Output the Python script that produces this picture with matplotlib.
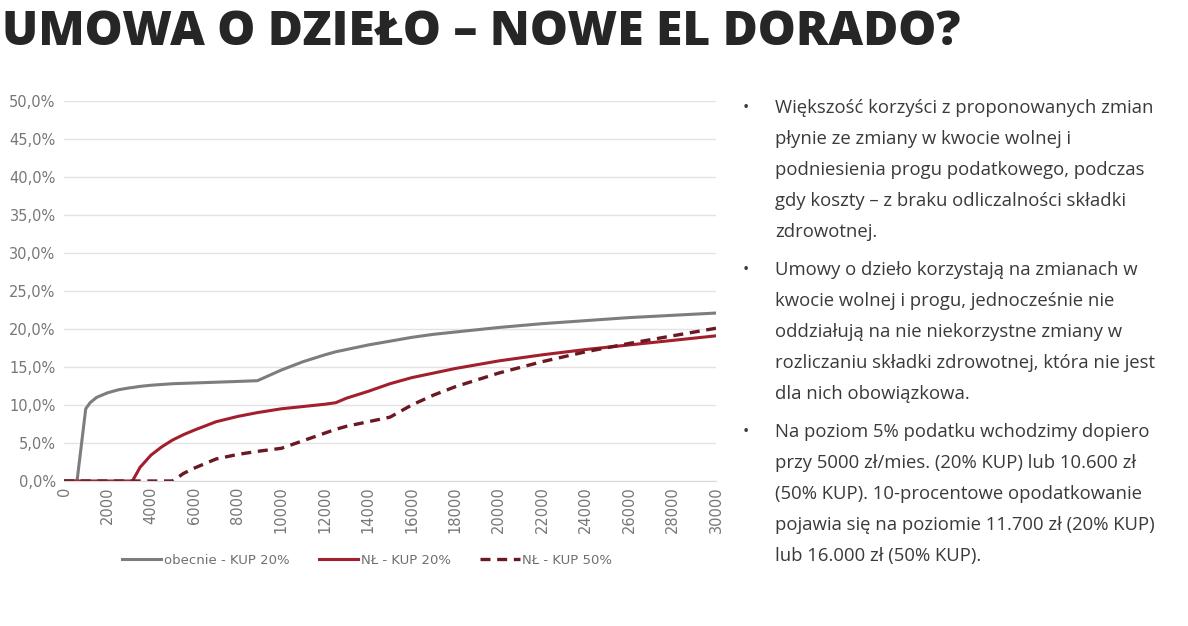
import matplotlib.pyplot as plt
import matplotlib.ticker as mticker

income = [0, 600, 1000, 1200, 1500, 2000, 2500, 3000, 3150, 3500, 4000, 4500, 5000, 5500, 6000,
          7000, 8000, 8900, 10000, 11000, 12000, 12500, 13000, 14000, 15000, 16000, 17000,
          18000, 20000, 22000, 24000, 26000, 28000, 30000]

obecnie_20 = [0.0, 0.0, 9.5, 10.3, 11.0, 11.6, 12.0, 12.25, 12.3, 12.45, 12.6, 12.7, 12.8, 12.85, 12.9,
              13.0, 13.1, 13.2, 14.6, 15.7, 16.6, 17.0, 17.3, 17.9, 18.4, 18.9, 19.3,
              19.6, 20.2, 20.7, 21.1, 21.5, 21.8, 22.1]
nl_20 = [0.0, 0.0, 0.0, 0.0, 0.0, 0.0, 0.0, 0.0, 0.0, 1.8, 3.4, 4.5, 5.4, 6.1, 6.7,
         7.8, 8.5, 9.0, 9.5, 9.8, 10.1, 10.3, 10.9, 11.8, 12.8, 13.6, 14.2,
         14.8, 15.8, 16.6, 17.3, 17.9, 18.5, 19.1]
nl_50 = [0.0, 0.0, 0.0, 0.0, 0.0, 0.0, 0.0, 0.0, 0.0, 0.0, 0.0, 0.0, 0.0, 1.0, 1.7,
         2.9, 3.5, 3.9, 4.3, 5.3, 6.3, 6.8, 7.2, 7.8, 8.4, 10.0, 11.3,
         12.4, 14.2, 15.7, 17.0, 18.1, 19.1, 20.1]

series_labels = ["obecnie - KUP 20%", "NŁ - KUP 20%", "NŁ - KUP 50%"]

bullets = [
    ["Większość korzyści z proponowanych zmian",
     "płynie ze zmiany w kwocie wolnej i",
     "podniesienia progu podatkowego, podczas",
     "gdy koszty – z braku odliczalności składki",
     "zdrowotnej."],
    ["Umowy o dzieło korzystają na zmianach w",
     "kwocie wolnej i progu, jednocześnie nie",
     "oddziałują na nie niekorzystne zmiany w",
     "rozliczaniu składki zdrowotnej, która nie jest",
     "dla nich obowiązkowa."],
    ["Na poziom 5% podatku wchodzimy dopiero",
     "przy 5000 zł/mies. (20% KUP) lub 10.600 zł",
     "(50% KUP). 10-procentowe opodatkowanie",
     "pojawia się na poziomie 11.700 zł (20% KUP)",
     "lub 16.000 zł (50% KUP)."],
]

W, H = 1188, 626
fig = plt.figure(figsize=(W / 100, H / 100), dpi=100)
fig.patch.set_facecolor("white")

fig.text(2 / W, 1 - 33 / H, "UMOWA O DZIEŁO – NOWE EL DORADO?", fontsize=34.5,
         fontweight="heavy", family="Open Sans", color="#262626", va="center", ha="left")

ax = fig.add_axes([64 / W, 1 - 481 / H, (716 - 64) / W, (481 - 101) / H])
ax.plot(income, obecnie_20, color="#7d7d80", lw=2.2, label=series_labels[0])
ax.plot(income, nl_20, color="#a21f2d", lw=2.2, label=series_labels[1])
ax.plot(income, nl_50, color="#6a1822", lw=2.4, ls=(0, (3, 2)), label=series_labels[2])

ax.set_xlim(0, 30000)
ax.set_ylim(0, 50)
ax.set_xticks(range(0, 30001, 2000))
ax.set_yticks(range(0, 51, 5))
ax.yaxis.set_major_formatter(mticker.FuncFormatter(lambda v, p: f"{v:.1f}%".replace(".", ",")))
ax.grid(axis="y", color="#e3e3e3", lw=1)
ax.set_axisbelow(True)
for s in ["top", "right", "left"]:
    ax.spines[s].set_visible(False)
ax.spines["bottom"].set_color("#d9d9d9")
ax.tick_params(axis="both", length=0, colors="#777777", labelsize=10.5)
ax.tick_params(axis="x", rotation=90, pad=4)
ax.tick_params(axis="y", pad=6)

leg = ax.legend(loc="center", bbox_to_anchor=(367 / W, 1 - 560 / H), bbox_transform=fig.transFigure,
                ncol=3, frameon=False, fontsize=9.5, handlelength=3.0, handletextpad=0.2,
                columnspacing=2.2)
for t in leg.get_texts():
    t.set_color("#6f6f6f")

y = 108
for para in bullets:
    fig.text(743 / W, 1 - y / H, "•", fontsize=12, color="#3a3a3a", va="center", family="Open Sans")
    for line in para:
        fig.text(775 / W, 1 - y / H, line, fontsize=13.3, color="#3a3a3a", va="center", family="Open Sans")
        y += 31
    y += 7

fig.savefig("out.png", dpi=100)
